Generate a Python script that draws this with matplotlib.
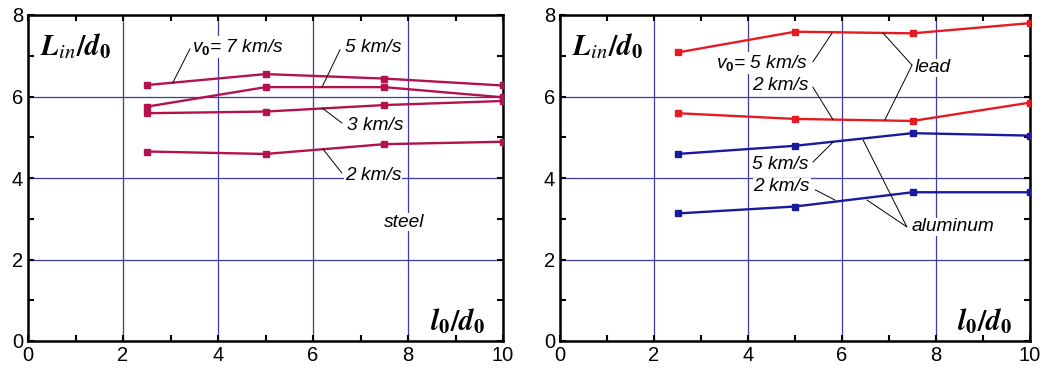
import matplotlib.pyplot as plt
from matplotlib.ticker import MultipleLocator

plt.rcParams['font.family'] = 'Liberation Sans'
plt.rcParams['mathtext.fontset'] = 'custom'
plt.rcParams['mathtext.it'] = 'Liberation Sans:italic'
plt.rcParams['mathtext.bf'] = 'Liberation Sans:bold'
plt.rcParams['mathtext.rm'] = 'Liberation Sans'

# data
l0_d0 = [2.5, 5.0, 7.5, 10.0]

steel_7 = [6.28, 6.55, 6.44, 6.27]
steel_5 = [5.75, 6.23, 6.23, 5.98]
steel_3 = [5.59, 5.63, 5.79, 5.89]
steel_2 = [4.65, 4.59, 4.83, 4.89]

lead_5 = [7.08, 7.59, 7.55, 7.80]
lead_2 = [5.59, 5.45, 5.40, 5.85]
alum_5 = [4.59, 4.79, 5.10, 5.04]
alum_2 = [3.13, 3.30, 3.65, 3.65]

xticks = [0, 2, 4, 6, 8, 10]
yticks = [0, 2, 4, 6, 8]

c_steel = '#b3124e'
c_lead = '#e41b23'
c_alum = '#1a1a9c'
c_grid = '#3c3ca0'

fig = plt.figure(figsize=(10.49, 3.69), dpi=100)
ax1 = fig.add_axes([28 / 1049, 28 / 369, 475 / 1049, 326 / 369])
ax2 = fig.add_axes([560 / 1049, 28 / 369, 470 / 1049, 326 / 369])

def style_axes(ax):
    ax.set_xlim(0, 10)
    ax.set_ylim(0, 8)
    ax.set_xticks(xticks)
    ax.set_yticks(yticks)
    ax.xaxis.set_minor_locator(MultipleLocator(1))
    ax.yaxis.set_minor_locator(MultipleLocator(1))
    ax.grid(True, which='major', color=c_grid, lw=0.9, zorder=0)
    ax.set_axisbelow(True)
    ax.tick_params(which='both', direction='in', top=True, right=True,
                   length=4, width=1.5, labelsize=14.5, pad=3.5)
    for s in ax.spines.values():
        s.set_linewidth(1.8)
    ax.text(0.025, 0.905, r'$\mathbfit{L}_{\mathit{in}}\mathbf{/}\mathbfit{d}_{\mathbf{0}}$',
            transform=ax.transAxes, fontsize=21, math_fontfamily='stix',
            va='center', ha='left')
    ax.text(0.962, 0.06, r'$\mathbfit{l}_{\mathbf{0}}\mathbf{/}\mathbfit{d}_{\mathbf{0}}$',
            transform=ax.transAxes, fontsize=21, math_fontfamily='stix',
            va='center', ha='right')

def plot_series(ax, y, color):
    ax.plot(l0_d0, y, color=color, lw=1.7, marker='s', ms=4.5, zorder=3)

def label(ax, x, y, s, ha='left'):
    ax.text(x, y, s, fontsize=13.8, style='italic', ha=ha, va='center', zorder=4,
            bbox=dict(facecolor='white', edgecolor='none', pad=0.5))

def leader(ax, start, end):
    ax.annotate('', xy=end, xytext=start,
                arrowprops=dict(arrowstyle='-', lw=0.7, color='black',
                                shrinkA=0, shrinkB=0), zorder=5)

# left panel: steel
style_axes(ax1)
for y in (steel_7, steel_5, steel_3, steel_2):
    plot_series(ax1, y, c_steel)

label(ax1, 3.45, 7.21, r'$v_\mathbf{0}$= 7 km/s')
leader(ax1, (3.41, 7.17), (3.05, 6.34))
label(ax1, 6.67, 7.21, '5 km/s')
leader(ax1, (6.57, 7.15), (6.19, 6.23))
label(ax1, 6.72, 5.28, '3 km/s')
leader(ax1, (6.61, 5.35), (6.19, 5.72))
label(ax1, 6.67, 4.05, '2 km/s')
leader(ax1, (6.61, 4.12), (6.21, 4.71))
label(ax1, 7.93, 2.92, 'steel', ha='center')

# right panel: lead and aluminum
style_axes(ax2)
for y in (lead_5, lead_2):
    plot_series(ax2, y, c_lead)
for y in (alum_5, alum_2):
    plot_series(ax2, y, c_alum)

label(ax2, 5.28, 6.82, r'$v_\mathbf{0}$= 5 km/s', ha='right')
leader(ax2, (5.38, 6.85), (5.79, 7.56))
label(ax2, 5.28, 6.26, '2 km/s', ha='right')
leader(ax2, (5.38, 6.23), (5.81, 5.43))
label(ax2, 7.55, 6.70, 'lead')
leader(ax2, (7.49, 6.77), (6.87, 7.56))
leader(ax2, (7.49, 6.77), (6.91, 5.42))

label(ax2, 5.28, 4.32, '5 km/s', ha='right')
leader(ax2, (5.38, 4.39), (5.81, 4.88))
label(ax2, 5.32, 3.78, '2 km/s', ha='right')
leader(ax2, (5.43, 3.71), (5.85, 3.46))
label(ax2, 7.49, 2.80, 'aluminum')
leader(ax2, (7.38, 2.80), (6.45, 4.93))
leader(ax2, (7.38, 2.80), (6.53, 3.46))

fig.savefig('out.png', dpi=100)
